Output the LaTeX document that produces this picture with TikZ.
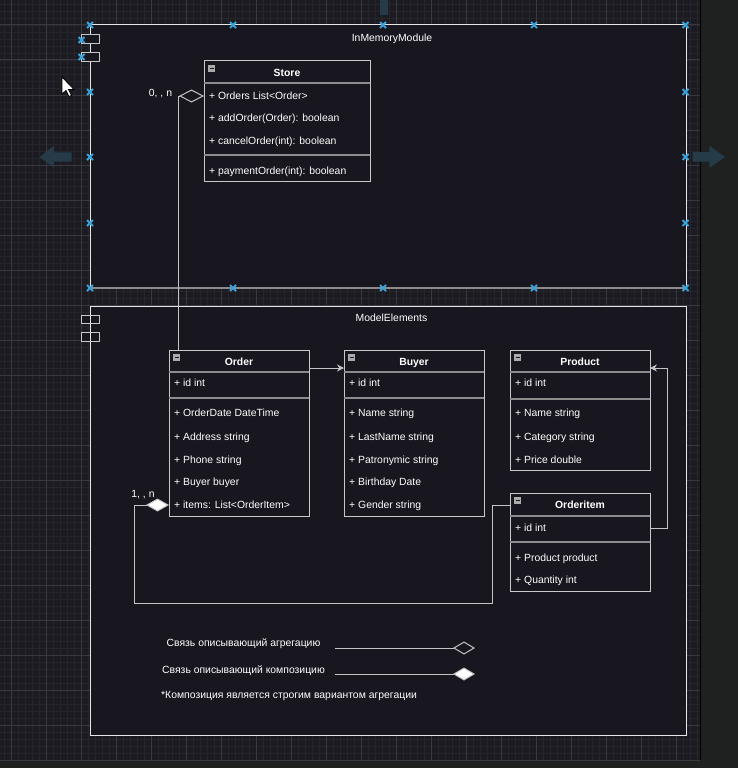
\documentclass[tikz,border=0pt]{standalone}
\usepackage{fontspec}
\setmainfont{Liberation Sans}
\usetikzlibrary{arrows.meta,calc}
\definecolor{gridbg}{HTML}{1C1B22}
\definecolor{sidebg}{HTML}{1F2121}
\definecolor{gridminor}{HTML}{26252C}
\definecolor{gridmajor}{HTML}{393840}
\definecolor{cfill}{HTML}{18161E}
\definecolor{cborder}{HTML}{E6E6E6}
\definecolor{clsborder}{HTML}{C8C8C8}
\definecolor{sepcol}{HTML}{8C8C8C}
\definecolor{conncol}{HTML}{C4C4C4}
\definecolor{markcol}{HTML}{3AA3DA}
\definecolor{ghost}{HTML}{263B48}
\definecolor{icongray}{HTML}{ABABAB}
\newcommand{\bx}[2]{\draw[markcol,line width=1.8pt] (#1-3,#2-3) -- (#1+3,#2+3) (#1-3,#2+3) -- (#1+3,#2-3);}
\newcommand{\uicon}[1]{\fill[icongray] ($(#1.north west)+(4,4)$) rectangle ++(7,7);
  \draw[cfill,line width=1.2pt] ($(#1.north west)+(5.5,7.5)$) -- ++(4,0);}
\tikzset{
  container/.style={draw=cborder,line width=1pt,fill=cfill,anchor=north west,inner sep=0pt,outer sep=0pt},
  comp/.style={draw=clsborder,line width=1pt,fill=cfill,anchor=north west,inner sep=0pt,outer sep=0pt,minimum width=18pt,minimum height=8.7pt},
  cls/.style={draw=clsborder,line width=1pt,fill=cfill,anchor=north west,inner sep=0pt,outer sep=0pt},
  sepline/.style={draw=sepcol,line width=1.6pt},
  txt/.style={text=white,inner sep=0pt,font=\fontsize{10.4}{12}\selectfont,text height=7.5pt,text depth=0.5pt},
  attr/.style={txt,anchor=west},
  ttl/.style={txt,font=\fontsize{10.4}{12}\selectfont\bfseries},
  conn/.style={draw=conncol,line width=1pt},
}
\begin{document}
\begin{tikzpicture}[x=1pt,y=-1pt]
\useasboundingbox (0,0) rectangle (738,768);
\fill[sidebg] (0,0) rectangle (738,768);
\fill[gridbg] (0,0) rectangle (700,760);
\begin{scope}
\clip (0,0) rectangle (700,760);
\foreach \x in {4,11,...,700} \draw[gridminor,line width=0.8pt] (\x,0) -- (\x,760);
\foreach \y in {4,11,...,760} \draw[gridminor,line width=0.8pt] (0,\y) -- (700,\y);
\foreach \x in {11,46,...,700} \draw[gridmajor,line width=1pt] (\x,0) -- (\x,760);
\foreach \y in {25,60,...,760} \draw[gridmajor,line width=1pt] (0,\y) -- (700,\y);
\end{scope}
\draw[black,line width=1pt] (700.5,0) -- (700.5,760);

% ghost arrows
\fill[ghost] (379.5,0) rectangle (387.5,15);
\fill[ghost] (39.5,157) -- (54,145.7) -- (54,152.3) -- (71.7,152.3) -- (71.7,161.5) -- (54,161.5) -- (54,167.7) -- cycle;
\fill[ghost] (725,157) -- (709.3,145.7) -- (709.3,152) -- (692.7,152) -- (692.7,161.7) -- (709.3,161.7) -- (709.3,167.7) -- cycle;

% containers
\node[container,minimum width=596pt,minimum height=263pt] (inmem) at (90,25) {};
\draw[sepcol,line width=2pt] (inmem.south west) -- (inmem.south east);
\node[comp] (inmemc1) at (81.5,35) {};
\node[comp] (inmemc2) at (81.5,52.5) {};
\node[txt] (inmemT) at (392,38) {InMemoryModule};

\node[container,minimum width=596pt,minimum height=429pt] (model) at (90,306) {};
\node[comp] (modelc1) at (81.5,315) {};
\node[comp] (modelc2) at (81.5,332.5) {};
\draw[cborder,line width=1pt] (90,315) -- (90,341);
\node[txt] (modelT) at (391.5,318) {ModelElements};

% Store
\node[cls,minimum width=166pt,minimum height=120pt] (store) at (204,61) {};
\draw[sepline] ($(store.north west)+(0,22)$) -- ($(store.north east)+(0,22)$);
\draw[sepline] ($(store.north west)+(0,94)$) -- ($(store.north east)+(0,94)$);
\uicon{store}
\node[ttl] (storeT) at ($(store.north)+(0,11.5)$) {Store};
\node[attr] (st1) at ($(store.north west)+(5,35)$) {+ Orders List<Order>};
\node[attr] (st2) at ($(store.north west)+(5,57)$) {+ addOrder(Order): boolean};
\node[attr] (st3) at ($(store.north west)+(5,80)$) {+ cancelOrder(int): boolean};
\node[attr] (st4) at ($(store.north west)+(5,110)$) {+ paymentOrder(int): boolean};

% Order
\node[cls,minimum width=140pt,minimum height=166pt] (order) at (169,350) {};
\draw[sepline] ($(order.north west)+(0,22)$) -- ($(order.north east)+(0,22)$);
\draw[sepline] ($(order.north west)+(0,48)$) -- ($(order.north east)+(0,48)$);
\uicon{order}
\node[ttl] (orderT) at ($(order.north)+(0,11.5)$) {Order};
\node[attr] (o1) at ($(order.north west)+(5,33)$) {+ id int};
\node[attr] (o2) at ($(order.north west)+(5,63)$) {+ OrderDate DateTime};
\node[attr] (o3) at ($(order.north west)+(5,87)$) {+ Address string};
\node[attr] (o4) at ($(order.north west)+(5,110)$) {+ Phone string};
\node[attr] (o5) at ($(order.north west)+(5,132)$) {+ Buyer buyer};
\node[attr] (o6) at ($(order.north west)+(5,155)$) {+ items: List<OrderItem>};

% Buyer
\node[cls,minimum width=140pt,minimum height=166pt] (buyer) at (344,350) {};
\draw[sepline] ($(buyer.north west)+(0,22)$) -- ($(buyer.north east)+(0,22)$);
\draw[sepline] ($(buyer.north west)+(0,48)$) -- ($(buyer.north east)+(0,48)$);
\uicon{buyer}
\node[ttl] (buyerT) at ($(buyer.north)+(0,11.5)$) {Buyer};
\node[attr] (b1) at ($(buyer.north west)+(5,33)$) {+ id int};
\node[attr] (b2) at ($(buyer.north west)+(5,63)$) {+ Name string};
\node[attr] (b3) at ($(buyer.north west)+(5,87)$) {+ LastName string};
\node[attr] (b4) at ($(buyer.north west)+(5,110)$) {+ Patronymic string};
\node[attr] (b5) at ($(buyer.north west)+(5,132)$) {+ Birthday Date};
\node[attr] (b6) at ($(buyer.north west)+(5,155)$) {+ Gender string};

% Product
\node[cls,minimum width=140pt,minimum height=120pt] (product) at (510,350) {};
\draw[sepline] ($(product.north west)+(0,22)$) -- ($(product.north east)+(0,22)$);
\draw[sepline] ($(product.north west)+(0,49)$) -- ($(product.north east)+(0,49)$);
\uicon{product}
\node[ttl] (productT) at ($(product.north)+(0,11.5)$) {Product};
\node[attr] (p1) at ($(product.north west)+(5,33)$) {+ id int};
\node[attr] (p2) at ($(product.north west)+(5,63)$) {+ Name string};
\node[attr] (p3) at ($(product.north west)+(5,87)$) {+ Category string};
\node[attr] (p4) at ($(product.north west)+(5,110)$) {+ Price double};

% OrderItem
\node[cls,minimum width=140pt,minimum height=98pt] (oitem) at (510,493) {};
\draw[sepline] ($(oitem.north west)+(0,23)$) -- ($(oitem.north east)+(0,23)$);
\draw[sepline] ($(oitem.north west)+(0,49)$) -- ($(oitem.north east)+(0,49)$);
\uicon{oitem}
\node[ttl] (oitemT) at ($(oitem.north)+(0,12)$) {Orderitem};
\node[attr] (i1) at ($(oitem.north west)+(5,35)$) {+ id int};
\node[attr] (i2) at ($(oitem.north west)+(5,65)$) {+ Product product};
\node[attr] (i3) at ($(oitem.north west)+(5,87)$) {+ Quantity int};

% connectors
\draw[conn,-{Diamond[open,length=25pt,width=13pt]}] ($(order.north west)+(9,0)$) |- ($(store.north west)+(0,35)$);
\node[txt] (agglabel) at (160.5,93) {0, , n};
\draw[conn,-{Stealth[length=7pt,width=7pt]}] ($(order.north east)+(0,18)$) -- ($(buyer.north west)+(0,18)$);
\draw[conn,-{Stealth[length=7pt,width=7pt]}] ($(oitem.north east)+(0,35)$) -- ++(17,0) |- ($(product.north east)+(0,18)$);
\draw[conn,-{Diamond[fill=white,length=23pt,width=13pt]}] ($(oitem.north west)+(0,12)$) -- (492,505) -- (492,603) -- (134,603) -- (134,505) -- ($(order.north west)+(0,155)$);
\node[txt] (complabel) at (143,494) {1, , n};

% legend
\node[txt] (legA) at (243.5,643) {Связь описывающий агрегацию};
\node[txt] (legC) at (243.5,670) {Связь описывающий композицию};
\node[attr] (legN) at (161,694.5) {*Композиция является строгим вариантом агрегации};
\coordinate (la1) at (335,648);
\coordinate (la2) at (475,648);
\coordinate (lc1) at (335,674);
\coordinate (lc2) at (475,674);
\draw[conn,-{Diamond[open,length=22pt,width=13pt]}] (la1) -- (la2);
\draw[conn,-{Diamond[fill=white,length=22pt,width=13pt]}] (lc1) -- (lc2);

% markers
\foreach \x in {90,233,383,534,685.5} { \bx{\x}{25} \bx{\x}{288} }
\foreach \y in {92,157,223} { \bx{90}{\y} \bx{685.5}{\y} }
\bx{81.5}{40}
\bx{81.5}{57}

% cursor
\filldraw[fill=white,draw=black,line width=0.8pt] (62,77) -- (62,94) -- (66,90.5) -- (69,96.5) -- (71.5,95.5) -- (68.5,89.5) -- (74,89.5) -- cycle;
\end{tikzpicture}
\end{document}
